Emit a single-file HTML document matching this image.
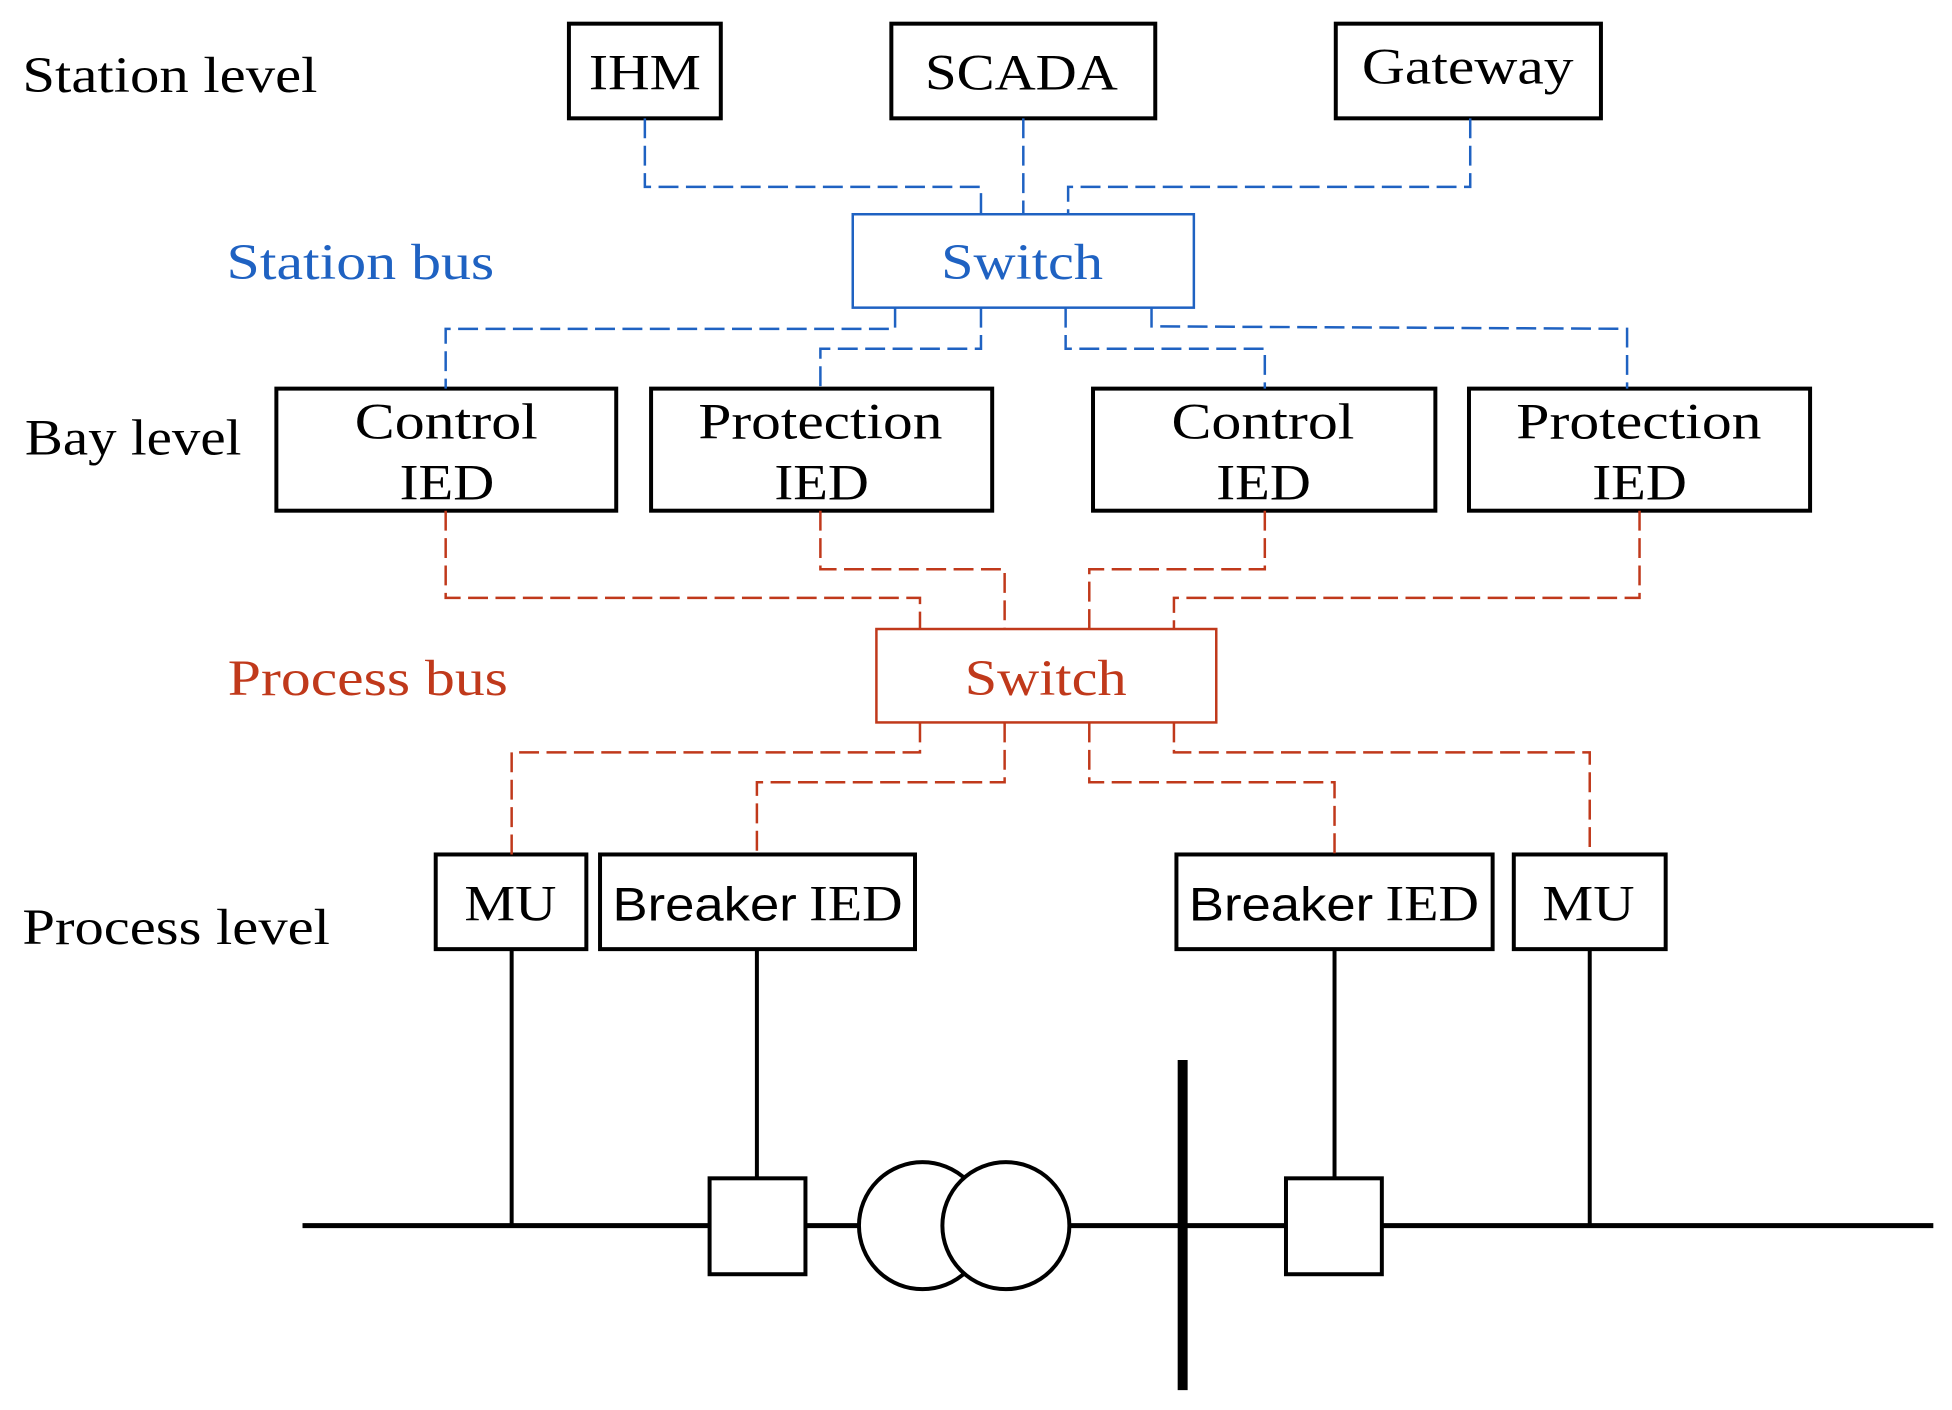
<!DOCTYPE html>
<html><head><meta charset="utf-8"><style>
html,body{margin:0;padding:0;background:#fff;}
svg{display:block;}
text{font-family:"Liberation Serif",serif;font-size:41px;}
</style></head><body>
<svg width="1952" height="1410" viewBox="0 0 1568 1132" preserveAspectRatio="none" xmlns="http://www.w3.org/2000/svg">
<g fill="none" stroke="#000" stroke-width="3.2">
<rect x="457" y="19" width="122" height="76"/>
<rect x="716" y="19" width="212" height="76"/>
<rect x="1073" y="19" width="213" height="76"/>
<rect x="222" y="312" width="273" height="98"/>
<rect x="523" y="312" width="274" height="98"/>
<rect x="878" y="312" width="275" height="98"/>
<rect x="1180" y="312" width="274" height="98"/>
<rect x="350" y="686" width="121" height="76"/>
<rect x="482" y="686" width="253" height="76"/>
<rect x="945" y="686" width="254" height="76"/>
<rect x="1216" y="686" width="122" height="76"/>
<line x1="411" y1="762" x2="411" y2="984"/>
<line x1="608" y1="762" x2="608" y2="946"/>
<line x1="1072" y1="762" x2="1072" y2="946"/>
<line x1="1277" y1="762" x2="1277" y2="984"/>
<line x1="243" y1="984" x2="1553" y2="984" stroke-width="4"/>
<rect x="570" y="946" width="77" height="77" fill="#fff"/>
<rect x="1033" y="946" width="77" height="77" fill="#fff"/>
<circle cx="741" cy="984" r="51" fill="#fff"/>
<circle cx="808" cy="984" r="51" fill="#fff"/>
<line x1="950" y1="851" x2="950" y2="1116" stroke-width="8"/>
</g>
<g fill="none" stroke="#1f62c2" stroke-width="2">
<rect x="685" y="172" width="274" height="75"/>
<g stroke-dasharray="16,6">
<polyline points="518,95 518,150 788,150 788,172"/>
<polyline points="822,95 822,172"/>
<polyline points="1181,95 1181,150 858,150 858,172"/>
<polyline points="719,247 719,264 358,264 358,312"/>
<polyline points="788,247 788,280 659,280 659,312"/>
<polyline points="856,247 856,280 1016,280 1016,312"/>
<polyline points="925,247 925,262 1307,264 1307,312"/>
</g></g>
<g fill="none" stroke="#c0391b" stroke-width="2">
<rect x="704" y="505" width="273" height="75"/>
<g stroke-dasharray="16,6">
<polyline points="358,410 358,480 739,480 739,505"/>
<polyline points="659,410 659,457 807,457 807,505"/>
<polyline points="1016,410 1016,457 875,457 875,505"/>
<polyline points="1317,410 1317,480 943,480 943,505"/>
<polyline points="739,580 739,604 411,604 411,686"/>
<polyline points="807,580 807,628 608,628 608,686"/>
<polyline points="875,580 875,628 1072,628 1072,686"/>
<polyline points="943,580 943,604 1277,604 1277,686"/>
</g></g>
<g lengthAdjust="spacingAndGlyphs">
<text x="18" y="74" textLength="237" lengthAdjust="spacingAndGlyphs">Station level</text>
<text x="182" y="224" fill="#1f62c2" textLength="215" lengthAdjust="spacingAndGlyphs">Station bus</text>
<text x="20" y="365" textLength="174" lengthAdjust="spacingAndGlyphs">Bay level</text>
<text x="183" y="558" fill="#c0391b" textLength="225" lengthAdjust="spacingAndGlyphs">Process bus</text>
<text x="18" y="758" textLength="247" lengthAdjust="spacingAndGlyphs">Process level</text>
<text x="473" y="72" textLength="90" lengthAdjust="spacingAndGlyphs">IHM</text>
<text x="743" y="72" textLength="155" lengthAdjust="spacingAndGlyphs">SCADA</text>
<text x="1094" y="67" textLength="170" lengthAdjust="spacingAndGlyphs">Gateway</text>
<text x="756" y="224" fill="#1f62c2" textLength="130" lengthAdjust="spacingAndGlyphs">Switch</text>
<text x="775" y="558" fill="#c0391b" textLength="130" lengthAdjust="spacingAndGlyphs">Switch</text>
<text x="285" y="352" textLength="147" lengthAdjust="spacingAndGlyphs">Control</text>
<text x="321" y="401" textLength="76" lengthAdjust="spacingAndGlyphs">IED</text>
<text x="561" y="352" textLength="196" lengthAdjust="spacingAndGlyphs">Protection</text>
<text x="622" y="401" textLength="76" lengthAdjust="spacingAndGlyphs">IED</text>
<text x="941" y="352" textLength="147" lengthAdjust="spacingAndGlyphs">Control</text>
<text x="977" y="401" textLength="76" lengthAdjust="spacingAndGlyphs">IED</text>
<text x="1218" y="352" textLength="197" lengthAdjust="spacingAndGlyphs">Protection</text>
<text x="1279" y="401" textLength="76" lengthAdjust="spacingAndGlyphs">IED</text>
<text x="373" y="739" textLength="74" lengthAdjust="spacingAndGlyphs">MU</text>
<text x="1239" y="739" textLength="74" lengthAdjust="spacingAndGlyphs">MU</text>
<text x="492" y="739" style="font-family:'Liberation Sans',sans-serif;font-size:38px" textLength="148" lengthAdjust="spacingAndGlyphs">Breaker</text>
<text x="650" y="739" textLength="75" lengthAdjust="spacingAndGlyphs">IED</text>
<text x="955" y="739" style="font-family:'Liberation Sans',sans-serif;font-size:38px" textLength="148" lengthAdjust="spacingAndGlyphs">Breaker</text>
<text x="1113" y="739" textLength="75" lengthAdjust="spacingAndGlyphs">IED</text>
</g>
</svg>
</body></html>
